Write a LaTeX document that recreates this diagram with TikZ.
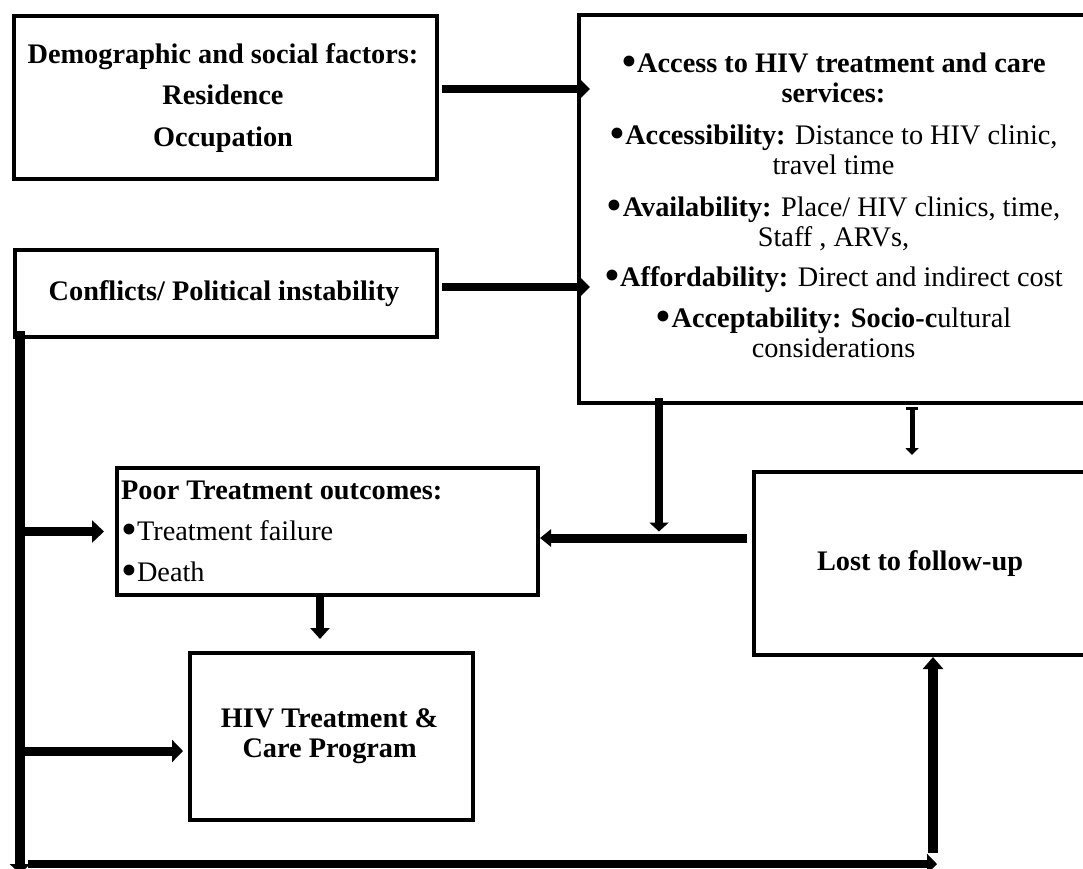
\documentclass[tikz,border=0pt]{standalone}
\usepackage{fontspec}
\setmainfont{Liberation Serif}
\usetikzlibrary{arrows.meta,calc}
\newcommand{\bulx}{\raisebox{-0.17em}{\scalebox{1.6}{•}}}
\begin{document}
\begin{tikzpicture}[x=1pt,y=-1pt,
  box/.style={draw, line width=4pt, rectangle, inner sep=0pt, anchor=north west},
  txt/.style={inner sep=0pt, anchor=base, font=\fontsize{28.3}{30}\selectfont},
  btxt/.style={txt, font=\fontsize{28.3}{30}\selectfont\bfseries},
  conn/.style n args={3}{line width=#1pt, -{Triangle[width=#2pt,length=#3pt]}}]
\useasboundingbox (0,0) rectangle (1083,868);
% boxes
\node[box, minimum width=423.5pt, minimum height=163pt] (demo) at (11.5,14) {};
\node[box, minimum width=422pt, minimum height=87pt] (conf) at (13,248) {};
\node[box, minimum width=513pt, minimum height=388pt] (access) at (577,13) {};
\node[box, minimum width=421pt, minimum height=127pt] (poor) at (115,466) {};
\node[box, minimum width=283pt, minimum height=167pt] (hiv) at (188,651) {};
\node[box, minimum width=336pt, minimum height=183pt] (lost) at (752,470) {};
% texts (base anchor = baseline of the last line)
\node[btxt, align=center] (demotext) at (223,146)
  {Demographic and social factors:\\[11.5pt] Residence\\[11.5pt] Occupation};
\node[btxt] (conftext) at (224,300) {Conflicts/ Political instability};
\node[txt, align=center] (acctext) at (833.5,357)
  {\bulx\textbf{Access to HIV treatment and care}\\
   \textbf{services:}\\[12pt]
   \bulx\textbf{Accessibility:} Distance to HIV clinic,\\
   travel time\\[12pt]
   \bulx\textbf{Availability:} Place/ HIV clinics, time,\\
   Staff , ARVs,\\[10pt]
   \bulx\textbf{Affordability:} Direct and indirect cost\\[11pt]
   \bulx\textbf{Acceptability: Socio-c}ultural\\
   considerations};
\node[txt, anchor=base west, align=left] (poortext) at (121,581)
  {\textbf{Poor Treatment outcomes:}\\[11pt]
   \bulx Treatment failure\\[11pt]
   \bulx Death};
\node[btxt, align=center] (hivtext) at (329.6,757)
  {HIV Treatment \&\\ Care Program};
\node[btxt] (losttext) at (920,570) {Lost to follow-up};
% free ends
\coordinate (bl) at (20,874);
\coordinate (botL) at (28,864);
\coordinate (botR) at (937,864);
% connectors
\draw[conn={8}{19}{10}] ($(demo.east)+(3,-8.5)$) -- ($(demo.east -| access.west)+(13,-8.5)$);
\draw[conn={8}{19}{10}] ($(conf.east)+(3,-6.5)$) -- ($(conf.east -| access.west)+(13,-6.5)$);
\draw[conn={10}{20}{10}] ($(conf.south west)+(7,-8)$) -- (bl);
\draw[conn={8}{20}{10}] (botL) -- (botR);
\draw[conn={10}{20}{12}] ($(botR)+(-4,-11)$) -- ($(botR |- lost.south)+(-4,0)$);
\draw[conn={9}{22}{12}] (poor.west -| bl) -- ($(poor.west)+(-11,0)$);
\draw[conn={9}{22}{11}] ($(hiv.west -| bl)+(0,14.5)$) -- ($(hiv.west)+(-5,14.5)$);
\draw[conn={8.5}{19}{9}] ($(access.south west)+(82,-7)$) -- ($(access.south west |- poor.east)+(82,0)$);
\draw[conn={9}{17}{11}] ($(poor.east -| lost.west)+(-5,6.5)$) -- ($(poor.east)+(0,6.5)$);
\draw[conn={8}{19}{11}] ($(poor.south)+(-7.5,-3)$) -- ($(hiv.north)+(-11.5,-12)$);
\draw[line width=5pt, {Bar[width=12pt,line width=3pt]}-{Triangle[width=13pt,length=7pt]}]
  ($(access.south west)+(335,2)$) -- ($(lost.north west)+(160,-15)$);
\end{tikzpicture}
\end{document}
